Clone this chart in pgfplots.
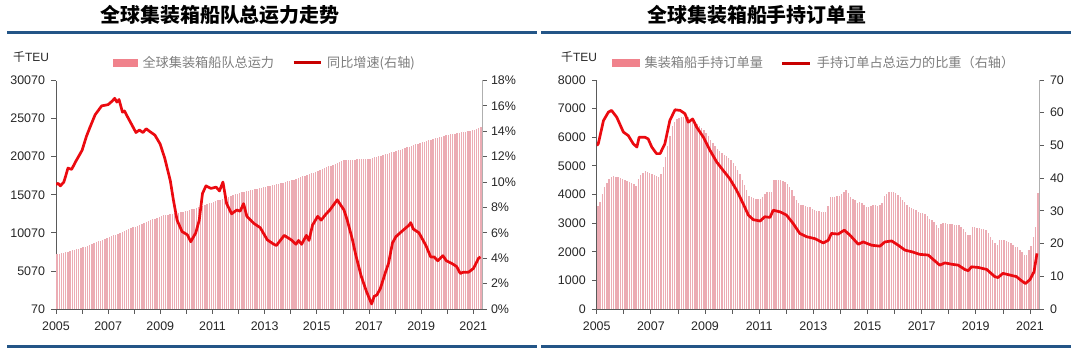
\documentclass[border=0pt]{standalone}
\usepackage{pgfplots}
\usepackage{pgfplotstable}
\pgfplotsset{compat=1.18}
\usepackage{fontspec}
\setmainfont{Liberation Sans}
\newfontfamily\cjk{Noto Sans CJK SC}

\definecolor{barpink}{RGB}{236,172,180}
\definecolor{legpink}{RGB}{240,130,140}
\definecolor{linered}{RGB}{235,10,16}
\definecolor{legred}{RGB}{200,0,0}
\definecolor{bluerule}{RGB}{35,85,135}
\definecolor{axgray}{RGB}{90,90,90}
\definecolor{axlight}{RGB}{175,175,175}
\definecolor{txtgray}{RGB}{125,125,125}

% Global fleet capacity (kTEU), monthly Jan 2005 - Apr 2021
\pgfplotstableread[row sep=\\]{
v\\
7230\\7300\\7380\\7450\\7530\\7610\\7690\\7760\\7840\\7920\\7990\\8070\\
8150\\8260\\8370\\8480\\8600\\8710\\8820\\8940\\9050\\9160\\9280\\9390\\
9500\\9620\\9730\\9850\\9970\\10080\\10200\\10320\\10430\\10550\\10670\\10780\\
10900\\11020\\11130\\11250\\11370\\11480\\11600\\11720\\11830\\11950\\12070\\12180\\
12300\\12350\\12410\\12460\\12520\\12570\\12620\\12680\\12730\\12790\\12840\\12900\\
12950\\13050\\13150\\13250\\13350\\13450\\13550\\13650\\13750\\13850\\13950\\14050\\
14150\\14250\\14340\\14440\\14530\\14630\\14730\\14820\\14920\\15010\\15110\\15200\\
15300\\15370\\15430\\15500\\15570\\15630\\15700\\15770\\15830\\15900\\15970\\16030\\
16100\\16170\\16240\\16310\\16380\\16450\\16530\\16600\\16670\\16740\\16810\\16880\\
16950\\17050\\17160\\17260\\17370\\17470\\17580\\17680\\17780\\17890\\17990\\18100\\
18200\\18320\\18430\\18550\\18670\\18780\\18900\\19020\\19130\\19250\\19370\\19480\\
19600\\19620\\19630\\19650\\19670\\19680\\19700\\19720\\19730\\19750\\19770\\19780\\
19800\\19880\\19970\\20050\\20130\\20220\\20300\\20380\\20470\\20550\\20630\\20720\\
20800\\20900\\20990\\21090\\21190\\21290\\21390\\21480\\21580\\21680\\21770\\21870\\
21970\\22050\\22130\\22220\\22300\\22380\\22460\\22540\\22620\\22700\\22790\\22870\\
22950\\23000\\23060\\23110\\23160\\23210\\23270\\23320\\23370\\23420\\23480\\23530\\
23580\\23700\\23830\\23950\\
}\capA

% YoY growth (%), x = months since Jan 2005
\pgfplotstableread[row sep=\\]{
x y\\
0 9.8\\ 1 9.9\\ 2 9.7\\ 3.6 10.0\\ 4.5 10.5\\ 5.5 11.1\\ 7.2 11.0\\ 9 11.6\\ 12 12.5\\ 14 13.6\\
15.6 14.3\\ 18 15.3\\ 21 16.0\\ 24 16.1\\ 26 16.4\\ 27 16.6\\ 28 16.3\\ 29 16.5\\ 30.6 15.5\\ 31.5 15.6\\
32.4 15.3\\ 34.6 14.6\\ 36.8 13.9\\ 38.4 14.1\\ 40 13.9\\ 41.5 14.2\\ 43 14.0\\ 45.5 13.7\\ 47.9 13.0\\ 50 11.9\\
52.6 10.1\\ 54 8.6\\ 55.7 7.0\\ 58 6.1\\ 60.4 5.85\\ 62 5.3\\ 64.3 6.0\\ 65.9 7.0\\ 67.4 9.1\\ 69 9.7\\
71.3 9.5\\ 73.7 9.6\\ 75.2 9.3\\ 76.8 10.0\\ 78.5 8.3\\ 80.8 7.5\\ 83.2 7.8\\ 84.7 7.7\\ 86.3 8.3\\ 87.8 7.3\\
91 6.75\\ 94 6.4\\ 97.2 5.45\\ 100.2 5.1\\ 101.4 5.0\\ 105 5.8\\ 108.2 5.45\\ 110.4 5.1\\ 111.6 5.4\\ 113 5.1\\
115.2 5.8\\ 116.4 5.4\\ 118 6.6\\ 120.4 7.3\\ 122 7.0\\ 124.3 7.5\\ 126 7.8\\ 129.4 8.6\\ 132.5 7.8\\ 134 7.0\\
136.4 5.45\\ 138 4.2\\ 140.4 2.6\\ 142.8 1.4\\ 145.2 0.4\\ 146.4 1.0\\ 147.6 1.1\\ 149.2 1.6\\ 151.6 2.9\\ 153 3.6\\
154.8 5.2\\ 156.4 5.7\\ 159 6.1\\ 162.4 6.6\\ 163.2 6.8\\ 164.4 6.3\\ 167 6.0\\ 170.2 5.0\\ 172.4 4.1\\ 174 4.1\\
175.6 3.8\\ 178 4.2\\ 179.6 3.8\\ 182 3.6\\ 184.3 3.35\\ 186 2.8\\ 187.4 2.9\\ 189.8 2.9\\ 192.1 3.2\\ 194.4 4.0\\
195.3 4.1\\
}\growth

% Orderbook (kTEU), monthly Jan 2005 - Apr 2021
\pgfplotstableread[row sep=\\]{
v\\
3600\\3750\\4000\\4250\\4400\\4550\\4620\\4650\\4620\\4600\\4570\\4540\\
4500\\4460\\4420\\4390\\4350\\4300\\4550\\4680\\4760\\4820\\4800\\4750\\
4720\\4680\\4640\\4620\\4700\\4950\\5300\\5700\\6050\\6400\\6550\\6650\\
6680\\6710\\6720\\6710\\6690\\6620\\6580\\6520\\6460\\6400\\6320\\6240\\
6150\\6050\\5900\\5800\\5700\\5600\\5520\\5450\\5380\\5330\\5270\\5200\\
5100\\4980\\4850\\4700\\4520\\4330\\4150\\3950\\3900\\3870\\3860\\3850\\
3860\\3900\\4000\\4090\\4100\\4080\\4500\\4520\\4510\\4500\\4460\\4420\\
4350\\4250\\4150\\3950\\3800\\3720\\3650\\3620\\3600\\3570\\3550\\3500\\
3450\\3430\\3420\\3400\\3380\\3400\\3600\\3900\\3920\\3930\\3940\\3950\\
4000\\4100\\4150\\4050\\3920\\3850\\3800\\3700\\3750\\3720\\3650\\3580\\
3570\\3600\\3630\\3620\\3600\\3650\\3700\\3950\\4000\\4080\\4090\\4070\\
4040\\3980\\3900\\3820\\3730\\3650\\3580\\3520\\3480\\3450\\3400\\3370\\
3340\\3310\\3250\\3160\\3100\\3050\\2950\\2830\\2980\\3000\\2990\\2970\\
2960\\2970\\2950\\2940\\2920\\2850\\2780\\2680\\2580\\2600\\2880\\2860\\
2840\\2820\\2800\\2780\\2760\\2650\\2520\\2400\\2300\\2230\\2400\\2420\\
2400\\2380\\2330\\2290\\2250\\2180\\2150\\2060\\2000\\1900\\1880\\2050\\
2200\\2500\\2850\\4050\\
}\orderbook

% Orderbook / fleet ratio (%), x = months since Jan 2005
\pgfplotstableread[row sep=\\]{
x y\\
0 50.0\\ 0.7 50.5\\ 3 57.6\\ 5.2 60.2\\ 6.6 60.7\\ 8.9 58.6\\ 11.8 54.1\\ 14 53.0\\ 16.2 50.5\\ 17.8 49.5\\
18.8 52.5\\ 21.4 52.5\\ 22.8 52.0\\ 24.4 49.5\\ 26.5 47.5\\ 28.1 47.5\\ 30.2 50.5\\ 32.4 57.6\\ 34.7 60.9\\ 37 60.7\\
39.1 59.7\\ 40.6 57.1\\ 42.5 58.1\\ 44.3 55.6\\ 47.3 52.5\\ 50.2 48.5\\ 53.2 44.9\\ 56 42.4\\ 59 39.8\\ 62 36.3\\
64.9 32.2\\ 67.2 28.7\\ 69.4 27.3\\ 72.4 26.9\\ 74.5 28.2\\ 76.8 28.0\\ 78.2 30.2\\ 81.2 29.7\\ 84.1 28.7\\ 87.1 26.1\\
90 23.1\\ 93 22.1\\ 96.7 21.5\\ 100.4 20.2\\ 102.6 21.0\\ 104 23.1\\ 107 22.9\\ 109.7 24.1\\ 112.2 22.6\\ 115.9 19.8\\
118.1 20.5\\ 121.8 19.5\\ 125.5 19.2\\ 127.7 20.5\\ 130.7 20.8\\ 133.6 19.5\\ 136.6 18.0\\ 139.6 17.5\\ 143.2 16.7\\ 146.9 16.5\\
149.2 15.1\\ 152 13.4\\ 154.3 14.1\\ 157.2 13.7\\ 160.2 13.4\\ 163.1 12.1\\ 164.6 11.7\\ 166.1 12.9\\ 169.1 12.7\\ 172.8 12.1\\
176.4 9.9\\ 177.8 9.6\\ 180 10.9\\ 183 10.4\\ 186 9.9\\ 188.3 8.6\\ 190 7.8\\ 192 9.0\\ 193.8 11.4\\ 195.1 17.0\\
}\ratio

\pgfplotsset{
  base/.style={
    scale only axis, anchor=south west,
    /pgf/number format/assume math mode=true,
    tick align=outside, major tick length=4.5bp,
    xmin=0, xmax=196,
    xtick={0,12,...,192},
    xticklabels={2005,,2007,,2009,,2011,,2013,,2015,,2017,,2019,,2021},
    xticklabel style={yshift=-4.5bp},
    scaled ticks=false,
    tick style={axgray, line width=0.8bp},
    every tick label/.append style={font=\fontsize{12.5}{14}\selectfont, text=black!85},
    axis line style={axgray, line width=0.9bp},
    clip=true,
  },
  legstyle/.style={
    legend columns=2,
    legend style={draw=none, fill=none, inner sep=0pt, anchor=west,
      font=\cjk\fontsize{13.2}{15}\selectfont, text=txtgray,
      nodes={inner sep=1bp},
      /tikz/every odd column/.append style={column sep=4bp},
      /tikz/every even column/.append style={column sep=17bp}},
  },
}

\begin{document}
\begin{tikzpicture}
\useasboundingbox (0,0) rectangle (1074bp,353bp);

% ---------- left panel ----------
\begin{axis}[base, legstyle, at={(56bp,44bp)}, width=426bp, height=228.5bp,
  ymin=70, ymax=30070,
  axis x line*=bottom, axis y line*=left,
  ytick={70,5070,10070,15070,20070,25070,30070},
  yticklabels={70,5070,10070,15070,20070,25070,30070},
  yticklabel style={xshift=-3bp},
  legend style={at={(0.1338,1.0766)}},
]
\addplot[ycomb, barpink, line width=1.35bp, forget plot] table[x expr=\coordindex+0.5, y index=0] {\capA};
\addlegendimage{legend image code/.code={\fill[legpink] (0bp,-3.5bp) rectangle (24bp,3.5bp);}}
\addlegendentry{全球集装箱船队总运力}
\addlegendimage{legend image code/.code={\draw[legred, line width=3bp] (0bp,0bp) -- (27bp,0bp);}}
\addlegendentry{同比增速(右轴)}
\end{axis}
\begin{axis}[base, at={(56bp,44bp)}, width=426bp, height=228.5bp,
  ymin=0, ymax=18,
  axis x line=none, axis y line*=right,
  axis line style={axlight, line width=0.9bp},
  ytick={0,2,...,18},
  yticklabels={0\%,2\%,4\%,6\%,8\%,10\%,12\%,14\%,16\%,18\%},
  yticklabel style={xshift=1bp},
]
\addplot[linered, line width=2.7bp, line join=round] table[x=x, y=y] {\growth};
\end{axis}

% ---------- right panel ----------
\begin{axis}[base, legstyle, at={(596.7bp,44bp)}, width=442.3bp, height=229bp,
  ymin=0, ymax=8000,
  axis x line*=bottom, axis y line*=left,
  ytick={0,1000,...,8000},
  yticklabels={0,1000,2000,3000,4000,5000,6000,7000,8000},
  yticklabel style={xshift=-3bp},
  legend style={at={(0.0346,1.0742)}},
]
\addplot[ycomb, barpink, line width=1.4bp, forget plot] table[x expr=\coordindex+0.5, y index=0] {\orderbook};
\addlegendimage{legend image code/.code={\fill[legpink] (0bp,-3.5bp) rectangle (27bp,3.5bp);}}
\addlegendentry{集装箱船手持订单量}
\addlegendimage{legend image code/.code={\draw[legred, line width=3bp] (0bp,0bp) -- (28bp,0bp);}}
\addlegendentry{手持订单占总运力的比重（右轴）}
\end{axis}
\begin{axis}[base, at={(596.7bp,44bp)}, width=442.3bp, height=229bp,
  ymin=0, ymax=70,
  axis x line=none, axis y line*=right,
  axis line style={axlight, line width=0.9bp},
  ytick={0,10,...,70},
  yticklabels={0,10,20,30,40,50,60,70},
  yticklabel style={xshift=3bp},
]
\addplot[linered, line width=2.7bp, line join=round] table[x=x, y=y] {\ratio};
\end{axis}

% ---------- titles, units, rules ----------
\node[font=\cjk\bfseries\fontsize{20}{22}\selectfont] at (220bp,338.5bp) {全球集装箱船队总运力走势};
\node[font=\cjk\bfseries\fontsize{20}{22}\selectfont] at (757bp,338.5bp) {全球集装箱船手持订单量};
\node[font=\fontsize{12}{14}\selectfont, text=black!85] at (31bp,295.5bp) {{\cjk 千}TEU};
\node[font=\fontsize{12}{14}\selectfont, text=black!85] at (579bp,295.5bp) {{\cjk 千}TEU};
\draw[bluerule, line width=2.6bp] (7bp,320.5bp) -- (537bp,320.5bp);
\draw[bluerule, line width=2.6bp] (541bp,320.5bp) -- (1071bp,320.5bp);
\draw[bluerule, line width=2.6bp] (7bp,6.5bp) -- (537bp,6.5bp);
\draw[bluerule, line width=2.6bp] (541bp,6.5bp) -- (1071bp,6.5bp);
\end{tikzpicture}
\end{document}
